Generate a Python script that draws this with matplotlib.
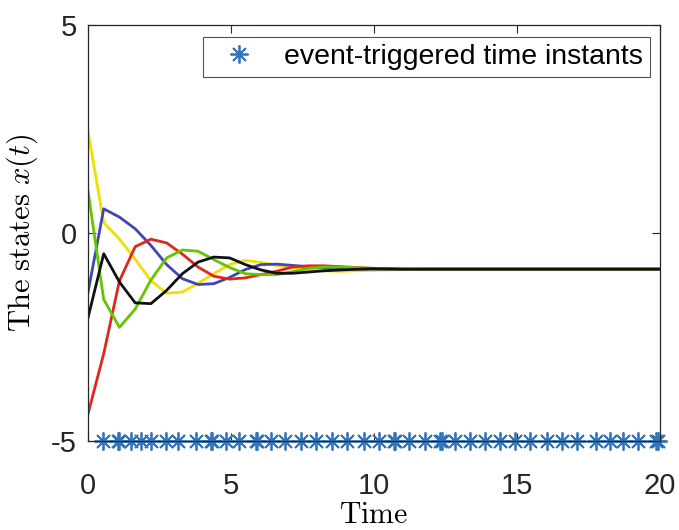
import matplotlib
matplotlib.use("Agg")
import matplotlib.pyplot as plt

plt.rcParams["mathtext.fontset"] = "cm"
plt.rcParams["font.family"] = ["Liberation Sans", "DejaVu Sans"]

# sample times shared by all five state trajectories
t = [0, 0.55, 1.1, 1.65, 2.2, 2.75, 3.3, 3.85, 4.4, 4.95, 5.5, 6.05, 6.6,
     7.15, 7.7, 8.25, 8.8, 9.9, 11, 12.1, 14, 20]

x_yellow = [2.44, 0.25, -0.15, -0.63, -1.15, -1.45, -1.42, -1.21, -0.98, -0.76, -0.66,
            -0.71, -0.78, -0.83, -0.88, -0.91, -0.92, -0.90, -0.88, -0.87, -0.87, -0.87]
x_blue = [-1.43, 0.58, 0.38, 0.10, -0.30, -0.76, -1.10, -1.24, -1.22, -1.07, -0.88,
          -0.76, -0.75, -0.78, -0.81, -0.84, -0.86, -0.87, -0.87, -0.87, -0.87, -0.87]
x_red = [-4.35, -2.90, -1.15, -0.33, -0.15, -0.24, -0.51, -0.82, -1.04, -1.11, -1.08,
         -1.00, -0.92, -0.82, -0.79, -0.79, -0.81, -0.85, -0.87, -0.87, -0.87, -0.87]
x_green = [1.01, -1.60, -2.27, -1.83, -1.13, -0.60, -0.41, -0.44, -0.64, -0.83, -0.98,
           -1.00, -1.00, -0.93, -0.85, -0.82, -0.82, -0.85, -0.87, -0.87, -0.87, -0.87]
x_black = [-2.04, -0.50, -1.18, -1.68, -1.70, -1.38, -0.98, -0.70, -0.58, -0.60, -0.76,
           -0.89, -0.97, -0.97, -0.94, -0.91, -0.89, -0.86, -0.87, -0.87, -0.87, -0.87]

# event-triggered time instants (drawn at the bottom, y = -5)
events = [0.52, 1.05, 1.08, 1.51, 1.86, 2.21, 2.74, 3.15, 3.78, 4.30, 4.35, 4.83, 5.29,
          5.87, 5.92, 6.40, 6.90, 7.44, 7.96, 8.54, 9.07, 9.65, 10.17, 10.69, 10.74,
          11.21, 11.79, 12.32, 12.37, 12.84, 13.37, 13.88, 14.41, 14.93, 15.45, 16.04,
          16.56, 17.09, 17.77, 18.24, 18.71, 19.23, 19.87, 19.92]
event_level = -5

xticks = [0, 5, 10, 15, 20]
yticks = [-5, 0, 5]
yticklabels = ["-5", "0", "5"]

fig = plt.figure(figsize=(6.79, 5.3), dpi=100)
ax = fig.add_axes([0.1296, 0.168, 0.8424, 0.785])

series = [(x_yellow, "#f2de00"), (x_blue, "#4146b4"), (x_red, "#e3251b"),
          (x_green, "#66c400"), (x_black, "#111111")]
for vals, col in series:
    ax.plot(t, vals, color=col, lw=2.0)

ax.plot(events, [event_level] * len(events), ls="none", marker=(8, 2, 0),
        ms=13, mew=1.3, color="#3375bb", clip_on=False,
        label="event-triggered time instants")

ax.set_xlim(0, 20)
ax.set_ylim(-5, 5)
ax.set_xticks(xticks)
ax.set_yticks(yticks)
ax.set_yticklabels(yticklabels)
ax.tick_params(direction="in", length=6, width=0.8, top=True, right=True,
               labelsize=21, colors="#262626")
ax.tick_params(axis="x", pad=22)
ax.tick_params(axis="y", pad=8)
for s in ax.spines.values():
    s.set_color("#262626")
    s.set_linewidth(0.9)

ax.set_xlabel(r"$\mathrm{Time}$", fontsize=21.5, labelpad=1)
ax.set_ylabel(r"$\mathrm{The\ states}\ x(t)$", fontsize=22, labelpad=8)

leg = ax.legend(loc="upper right", fontsize=20.5, frameon=True, fancybox=False,
                edgecolor="#262626", handlelength=2.0, handletextpad=0.6,
                borderpad=0.25, borderaxespad=0, bbox_to_anchor=(0.983, 0.971))
leg.get_frame().set_linewidth(0.8)

fig.savefig("out.png", dpi=100)
